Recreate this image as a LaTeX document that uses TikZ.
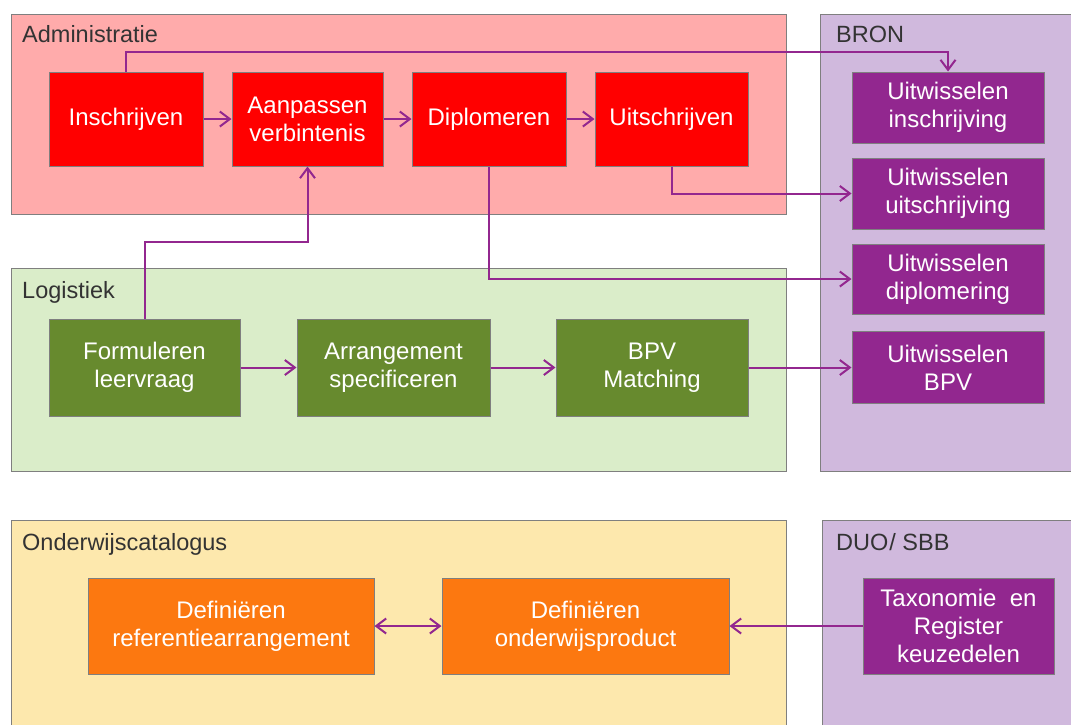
\documentclass[tikz,border=0pt]{standalone}
\usepackage{fontspec}
\setmainfont{Liberation Sans}
\usetikzlibrary{arrows.meta}
\definecolor{admfill}{HTML}{FFABAB}
\definecolor{bronfill}{HTML}{D0B9DD}
\definecolor{logfill}{HTML}{DAEDC9}
\definecolor{ondfill}{HTML}{FDE8AD}
\definecolor{redbox}{HTML}{FF0000}
\definecolor{purplebox}{HTML}{92278F}
\definecolor{greenbox}{HTML}{678A2E}
\definecolor{orangebox}{HTML}{FC7810}
\definecolor{edgegray}{HTML}{7F7F7F}
\definecolor{labelgray}{HTML}{333333}
\definecolor{arrowc}{HTML}{93278F}
\tikzset{
  container/.style={draw=edgegray, line width=1pt},
  clabel/.style={anchor=base west, inner sep=0pt, text=labelgray, font=\fontsize{23.5}{28}\selectfont},
  procbox/.style={draw=edgegray, line width=1pt, text=white, align=center, inner sep=0pt,
    font=\fontsize{24}{28}\selectfont},
  redproc/.style={procbox, fill=redbox},
  purpleproc/.style={procbox, fill=purplebox},
  greenproc/.style={procbox, fill=greenbox},
  orangeproc/.style={procbox, fill=orangebox},
  conn/.style={draw=arrowc, line width=2pt, -{Straight Barb[length=10pt,width=15pt]}},
  biconn/.style={draw=arrowc, line width=2pt, {Straight Barb[length=10pt,width=15pt]}-{Straight Barb[length=10pt,width=15pt]}}
}
\begin{document}
\begin{tikzpicture}[x=1pt,y=-1pt]
\useasboundingbox (0,0) rectangle (1071,724);
\clip (0,0) rectangle (1071,724);
% containers
\draw[container, fill=admfill] (11,14) rectangle (786,214);
\draw[container, fill=bronfill] (820,14) rectangle (1085,471);
\draw[container, fill=logfill] (11,268) rectangle (786,471);
\draw[container, fill=ondfill] (11,520) rectangle (786,735);
\draw[container, fill=bronfill] (822,520) rectangle (1085,735);
\node[clabel] (ladm) at (22,42) {Administratie};
\node[clabel] (lbron) at (836,42) {BRON};
\node[clabel] (llog) at (22,298) {Logistiek};
\node[clabel] (lond) at (22,550) {Onderwijscatalogus};
\node[clabel] (lduo) at (836,550) {DUO\kern1pt/ SBB};
% administratie
\node[redproc, minimum width=154pt, minimum height=94pt] (ins) at (126,119) {Inschrijven};
\node[redproc, minimum width=151pt, minimum height=94pt] (aan) at (307.5,119) {Aanpassen\\verbintenis};
\node[redproc, minimum width=154pt, minimum height=94pt] (dip) at (489,119) {Diplomeren};
\node[redproc, minimum width=153pt, minimum height=94pt] (uit) at (671.5,119) {Uitschrijven};
% bron
\node[purpleproc, minimum width=192pt, minimum height=71pt] (uw1) at (948,107.5) {Uitwisselen\\inschrijving};
\node[purpleproc, minimum width=192pt, minimum height=71pt] (uw2) at (948,193.5) {Uitwisselen\\uitschrijving};
\node[purpleproc, minimum width=192pt, minimum height=70pt] (uw3) at (948,279) {Uitwisselen\\diplomering};
\node[purpleproc, minimum width=192pt, minimum height=72pt] (uw4) at (948,367.5) {Uitwisselen\\BPV};
% logistiek
\node[greenproc, minimum width=191pt, minimum height=97pt] (form) at (144.5,367.5) {Formuleren\\leervraag};
\node[greenproc, minimum width=193pt, minimum height=97pt] (arr) at (393.5,367.5) {Arrangement\\specificeren};
\node[greenproc, minimum width=192pt, minimum height=97pt] (bpv) at (652,367.5) {BPV\\Matching};
% onderwijscatalogus
\node[orangeproc, minimum width=286pt, minimum height=96pt] (dref) at (231,626) {Definiëren\\referentiearrangement};
\node[orangeproc, minimum width=287pt, minimum height=96pt] (dop) at (585.5,626) {Definiëren\\onderwijsproduct};
\node[purpleproc, minimum width=191pt, minimum height=96pt] (tax) at (958.5,626) {Taxonomie\ \ en\\Register\\keuzedelen};
% connectors
\coordinate (jlog) at (0,242);
\draw[conn] (ins.east) -- (aan.west);
\draw[conn] (aan.east) -- (dip.west);
\draw[conn] (dip.east) -- (uit.west);
\draw[conn] (ins.north) -- ++(0,-20) -| (uw1.north);
\draw[conn] (uit.south) |- (uw2.west);
\draw[conn] (dip.south) |- (uw3.west);
\draw[conn] (form.north) -- (form.north |- jlog) -| (aan.south);
\draw[conn] (form.east) -- (arr.west);
\draw[conn] (arr.east) -- (bpv.west);
\draw[conn] (bpv.east) -- (uw4.west);
\draw[biconn] (dref.east) -- (dop.west);
\draw[conn] (tax.west) -- (dop.east);
\end{tikzpicture}
\end{document}
